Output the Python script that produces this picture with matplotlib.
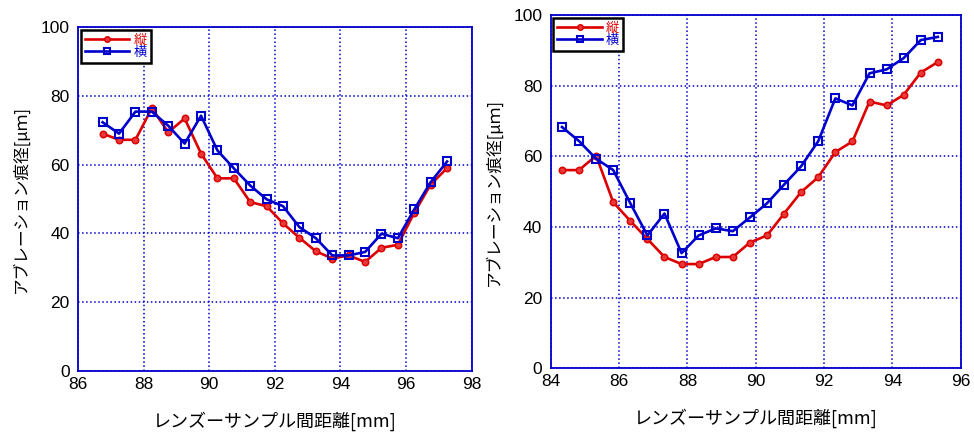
import matplotlib

matplotlib.use("Agg")
import matplotlib.pyplot as plt

plt.rcParams["font.family"] = ["Liberation Sans", "Noto Sans CJK JP", "DejaVu Sans"]

# left panel
left_x = [86.75, 87.25, 87.75, 88.25, 88.75, 89.25, 89.75, 90.25, 90.75, 91.25, 91.75,
          92.25, 92.75, 93.25, 93.75, 94.25, 94.75, 95.25, 95.75, 96.25, 96.75, 97.25]
left_tate = [69.0, 67.2, 67.2, 76.4, 69.4, 73.4, 63.2, 56.0, 56.0, 49.1, 47.9,
             42.9, 38.7, 34.8, 32.7, 33.6, 31.7, 35.8, 36.7, 46.0, 54.2, 59.0]
left_yoko = [72.3, 69.0, 75.4, 75.4, 71.3, 66.1, 74.2, 64.1, 58.9, 53.9, 49.9,
             47.9, 41.8, 38.6, 33.6, 33.6, 34.6, 39.9, 38.6, 47.0, 54.9, 60.9]

# right panel
right_x = [84.33, 84.83, 85.33, 85.83, 86.33, 86.83, 87.33, 87.83, 88.33, 88.83, 89.33, 89.83,
           90.33, 90.83, 91.33, 91.83, 92.33, 92.83, 93.33, 93.83, 94.33, 94.83, 95.33]
right_tate = [56.1, 56.1, 60.2, 47.0, 41.7, 36.6, 31.5, 29.5, 29.5, 31.5, 31.5, 35.6,
              37.6, 43.8, 49.9, 54.1, 61.2, 64.2, 75.5, 74.4, 77.4, 83.7, 86.7]
right_yoko = [68.3, 64.3, 59.3, 56.1, 46.7, 37.6, 43.8, 32.6, 37.6, 39.6, 38.8, 42.7,
              46.7, 52.0, 57.2, 64.3, 76.4, 74.4, 83.5, 84.6, 87.8, 92.9, 93.8]

series_labels = ["縦", "横"]
xlabel = "レンズーサンプル間距離[mm]"
ylabel = "アブレーション痕径[μｍ]"

RED = "#dd0000"
BLUE = "#0000cc"
CJK = ["Noto Sans CJK JP", "DejaVu Sans"]

fig = plt.figure(figsize=(9.74, 4.36), dpi=100)
ax_l = fig.add_axes([0.0801, 0.1491, 0.4042, 0.789])
ax_r = fig.add_axes([0.5654, 0.1553, 0.4210, 0.8103])

panels = [
    (ax_l, left_x, left_tate, left_yoko, (86, 98)),
    (ax_r, right_x, right_tate, right_yoko, (84, 96)),
]

for ax, xs, tate, yoko, xlim in panels:
    ax.plot(xs, tate, "-o", color=RED, lw=1.9, ms=4.6, mfc="#e83a3a", mec=RED,
            mew=1.1, label=series_labels[0], zorder=3)
    ax.plot(xs, yoko, "-s", color=BLUE, lw=1.9, ms=5.4, mfc="none", mec=BLUE,
            mew=1.5, label=series_labels[1], zorder=4)
    ax.set_xlim(*xlim)
    ax.set_ylim(0, 100)
    ax.set_xticks(range(xlim[0], xlim[1] + 1, 2))
    ax.set_yticks(range(0, 101, 20))
    ax.grid(True, color=BLUE, ls=":", lw=1.1)
    for s in ax.spines.values():
        s.set_color(BLUE)
        s.set_linewidth(1.3)
    ax.tick_params(length=0, labelsize=12.5, pad=6)
    ax.tick_params(axis="x", pad=4)
    ax.set_xlabel(xlabel, family=CJK, fontsize=13, labelpad=14)
    ax.set_ylabel(ylabel, family=CJK, fontsize=12, labelpad=8)

    leg = ax.legend(loc="upper left", fancybox=False, framealpha=1,
                    edgecolor="black", borderaxespad=0.2, handlelength=3.4,
                    handletextpad=0.3, labelspacing=-0.05, borderpad=0.3,
                    markerscale=0.85, prop={"family": CJK, "size": 9.5})
    leg.get_frame().set_linewidth(1.8)
    for txt, c in zip(leg.get_texts(), [RED, BLUE]):
        txt.set_color(c)

fig.savefig("out.png", dpi=100)
